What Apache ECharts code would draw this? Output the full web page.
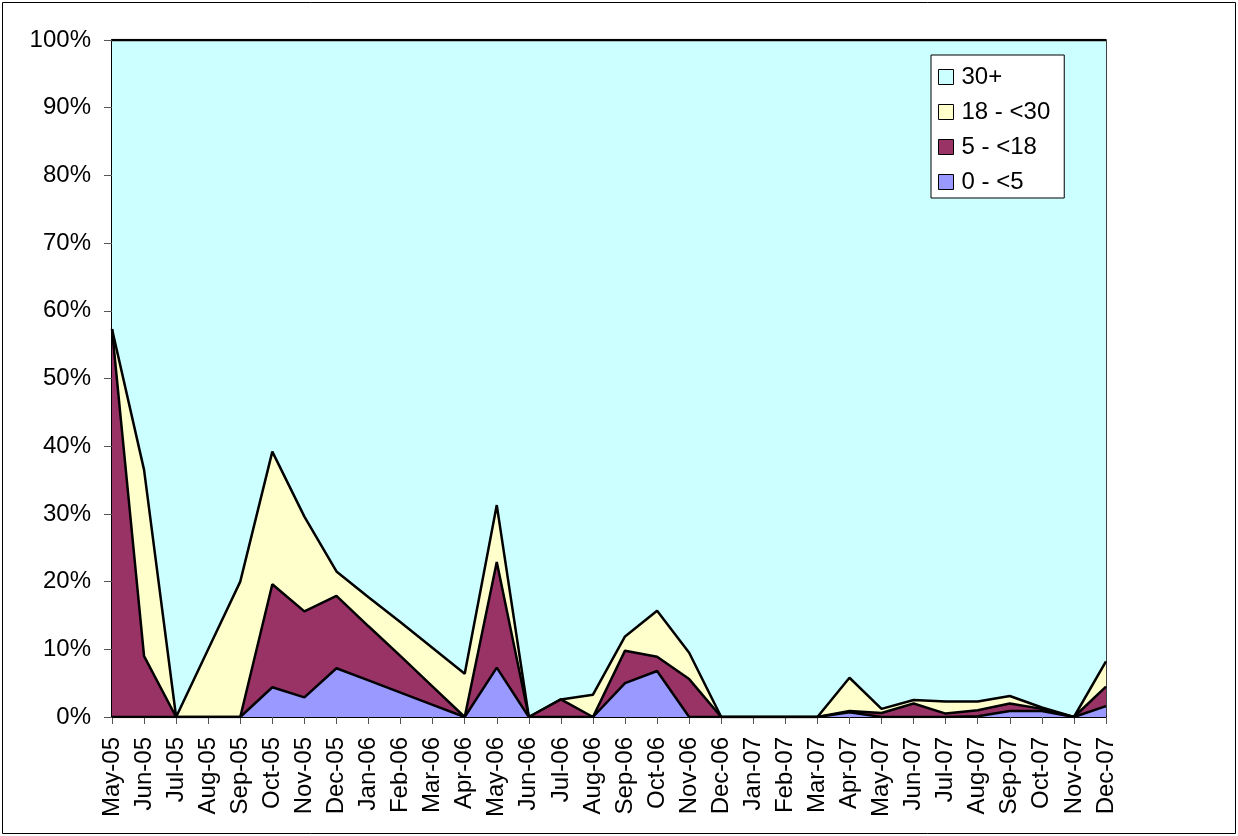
<!DOCTYPE html>
<html>
<head>
<meta charset="utf-8">
<script src="https://cdn.jsdelivr.net/npm/echarts@6/dist/echarts.min.js"></script>
<style>
  html, body { margin: 0; padding: 0; background: #fff; }
  #chart { width: 1238px; height: 836px; }
</style>
</head>
<body>
<div id="chart"></div>
<script>
// Monthly share of cases by age group (percent of all cases)
const months = [
  'May-05','Jun-05','Jul-05','Aug-05','Sep-05','Oct-05','Nov-05','Dec-05',
  'Jan-06','Feb-06','Mar-06','Apr-06','May-06','Jun-06','Jul-06','Aug-06',
  'Sep-06','Oct-06','Nov-06','Dec-06','Jan-07','Feb-07','Mar-07','Apr-07',
  'May-07','Jun-07','Jul-07','Aug-07','Sep-07','Oct-07','Nov-07','Dec-07'
];

const age0to5 = [
  0, 0, 0, 0, 0, 4.4, 2.9, 7.2,
  5.4, 3.6, 1.8, 0, 7.3, 0, 0, 0,
  5.0, 6.8, 0, 0, 0, 0, 0, 0.7,
  0, 0, 0, 0.1, 0.9, 0.9, 0, 1.6
];

const age5to18 = [
  57.3, 9.0, 0, 0, 0, 15.2, 12.7, 10.7,
  8.0, 5.4, 2.7, 0, 15.6, 0, 2.6, 0,
  4.8, 2.1, 5.6, 0, 0, 0, 0, 0.2,
  0.6, 2.0, 0.5, 0.9, 1.1, 0.3, 0, 2.9
];

const age18to30 = [
  0, 27.5, 0, 10.0, 20.0, 19.6, 14.0, 3.6,
  4.3, 5.0, 5.7, 6.4, 8.4, 0, 0, 3.3,
  2.1, 6.8, 3.9, 0, 0, 0, 0, 4.9,
  0.6, 0.5, 1.8, 1.3, 1.1, 0.2, 0, 3.7
];

const age30plus = [
  42.7, 63.5, 100, 90.0, 80.0, 60.8, 70.4, 78.5,
  82.3, 86.0, 89.8, 93.6, 68.7, 100, 97.4, 96.7,
  88.1, 84.3, 90.5, 100, 100, 100, 100, 94.2,
  98.8, 97.5, 97.7, 97.7, 96.9, 98.6, 100, 91.8
];

const groupNames = ['0 - <5', '5 - <18', '18 - <30', '30+'];
const groupColors = ['#9999FF', '#993366', '#FFFFCC', '#CCFFFF'];
const groupData = [age0to5, age5to18, age18to30, age30plus];

const font = 'Liberation Sans, Arial, sans-serif';

const chart = echarts.init(document.getElementById('chart'), null, { renderer: 'canvas' });

// Lower bands are drawn last so their outlines stay on top of the bands above
const series = groupData.map((data, i) => ({
  name: groupNames[i],
  type: 'line',
  stack: 'share',
  data: data,
  symbol: 'none',
  smooth: false,
  z: 10 - i,
  lineStyle: { color: '#000', width: 2.5 },
  itemStyle: { color: groupColors[i], borderColor: '#000', borderWidth: 1 },
  areaStyle: { color: groupColors[i], opacity: 1 },
  emphasis: { disabled: true },
  animation: false
}));

chart.setOption({
  animation: false,
  backgroundColor: '#fff',
  grid: {
    left: 112, right: 132, top: 40, bottom: 119,
    show: true, borderColor: '#000', borderWidth: 1.5
  },
  legend: {
    z: 50,
    orient: 'vertical',
    left: 931, top: 55,
    backgroundColor: '#fff',
    borderColor: '#000',
    borderWidth: 1,
    borderRadius: 0,
    padding: [10, 14, 4, 7],
    itemGap: 11,
    itemWidth: 15,
    itemHeight: 15,
    icon: 'rect',
    textStyle: { fontFamily: font, fontSize: 24, color: '#000', lineHeight: 24, padding: [0, 0, 0, 3] },
    data: [3, 2, 1, 0].map(i => ({
      name: groupNames[i],
      itemStyle: { color: groupColors[i], borderColor: '#000', borderWidth: 1 }
    })),
    selectedMode: false
  },
  xAxis: {
    type: 'category',
    data: months,
    boundaryGap: false,
    axisLine: { lineStyle: { color: '#000', width: 2 } },
    axisTick: { show: true, length: 7, alignWithLabel: true, lineStyle: { color: '#555', width: 1 } },
    axisLabel: {
      rotate: 90, interval: 0, margin: 20,
      fontFamily: font, fontSize: 24, color: '#000'
    },
    splitLine: { show: false }
  },
  yAxis: {
    type: 'value',
    min: 0, max: 100, interval: 10,
    axisLine: { show: true, lineStyle: { color: '#000', width: 2 } },
    axisTick: { show: true, length: 8, lineStyle: { color: '#555', width: 1 } },
    axisLabel: {
      formatter: '{value}%', margin: 21,
      fontFamily: font, fontSize: 24, color: '#000'
    },
    splitLine: { show: false }
  },
  series: series,
  graphic: [{
    type: 'rect',
    shape: { x: 2.5, y: 2.5, width: 1233, height: 831 },
    style: { fill: 'none', stroke: '#000', lineWidth: 1 },
    silent: true,
    z: 100
  }]
});
</script>
</body>
</html>
